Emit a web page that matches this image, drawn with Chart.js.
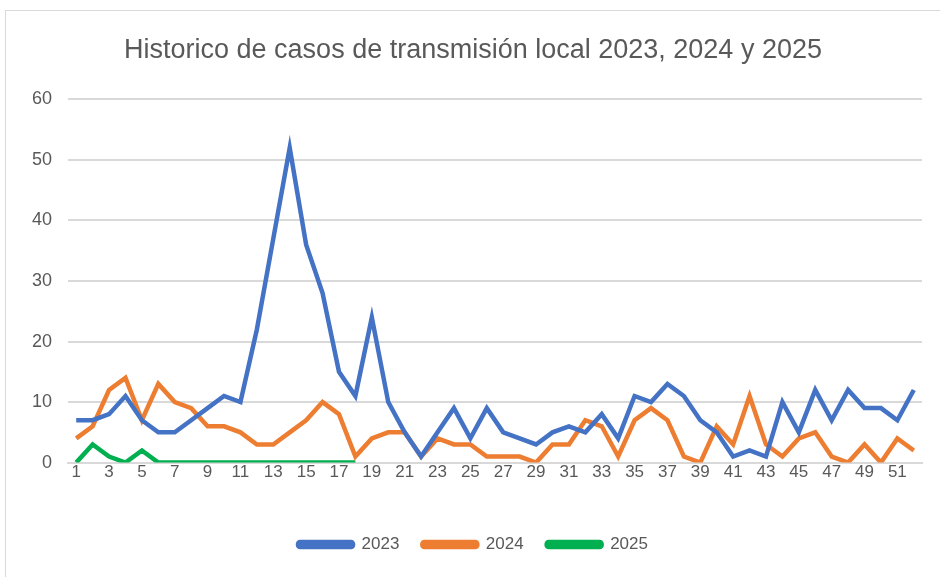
<!DOCTYPE html>
<html>
<head>
<meta charset="utf-8">
<script src="https://cdn.jsdelivr.net/npm/chart.js@4.4.1/dist/chart.umd.min.js"></script>
<style>
  body { margin: 0; background: #fff; }
  #frame { position: absolute; left: 5px; top: 10px; width: 940px; height: 570px;
           border-left: 1px solid #d9d9d9; border-top: 1px solid #d9d9d9; }
  #wrap { position: absolute; left: 0; top: 0; width: 934px; height: 566px; }
</style>
</head>
<body>
<div id="frame"><div id="wrap"><canvas id="myChart"></canvas></div></div>
<script>
// weeks 1..52
const semanas = []
for (let i = 1; i <= 52; i++) semanas.push(String(i))

// cases per week
const casos2023 = [7, 7, 8, 11, 7, 5, 5, 7, 9, 11, 10, 22, 37, 52, 36, 28, 15, 11, 24, 10,
                   5, 1, 5, 9, 4, 9, 5, 4, 3, 5, 6, 5, 8, 4, 11, 10, 13, 11, 7, 5,
                   1, 2, 1, 10, 5, 12, 7, 12, 9, 9, 7, 12]
const casos2024 = [4, 6, 12, 14, 7, 13, 10, 9, 6, 6, 5, 3, 3, 5, 7, 10, 8, 1, 4, 5,
                   5, 1, 4, 3, 3, 1, 1, 1, 0, 3, 3, 7, 6, 1, 7, 9, 7, 1, 0, 6,
                   3, 11, 3, 1, 4, 5, 1, 0, 3, 0, 4, 2]
const casos2025 = [0, 3, 1, 0, 2, 0, 0, 0, 0, 0, 0, 0, 0, 0, 0, 0, 0, 0]

const yTicks = [0, 10, 20, 30, 40, 50, 60]

const gris = '#595959'
const fuente = "'Liberation Sans', Arial, sans-serif"

function serie(label, data, color) {
    return {
        label: label,
        data: data,
        borderColor: color,
        backgroundColor: color,
        borderWidth: 4.5,
        pointRadius: 0,
        tension: 0,
        fill: false
    }
}

const ctx = document.getElementById('myChart')
const chart = new Chart(ctx, {
    type: 'line',
    data: {
        labels: semanas,
        datasets: [
            serie('2023', casos2023, '#4472C4'),
            serie('2024', casos2024, '#ED7D31'),
            serie('2025', casos2025, '#00B050')
        ]
    },
    options: {
        responsive: true,
        maintainAspectRatio: false,
        animation: false,
        layout: { padding: { left: 18, right: 18, top: 19, bottom: 14 } },
        plugins: {
            title: {
                display: true,
                text: 'Historico de casos de transmisión local 2023, 2024 y 2025',
                color: gris,
                font: { family: fuente, size: 27, weight: 'normal' },
                padding: { top: 4, bottom: 33 }
            },
            legend: {
                position: 'bottom',
                labels: {
                    color: gris,
                    font: { family: fuente, size: 17 },
                    boxWidth: 55,
                    boxHeight: 5,
                    useBorderRadius: true,
                    borderRadius: 2,
                    padding: 23
                }
            },
            tooltip: { enabled: false }
        },
        scales: {
            x: {
                offset: true,
                afterFit: function (s) { s.height = s.height + 30 },
                grid: { display: false, drawTicks: false },
                border: { color: '#d9d9d9', width: 2 },
                ticks: {
                    autoSkip: false,
                    maxRotation: 0,
                    padding: 0,
                    color: gris,
                    font: { family: fuente, size: 17 },
                    callback: function (val, i) { return i % 2 === 0 ? semanas[i] : '' }
                }
            },
            y: {
                min: 0,
                max: 60,
                afterFit: function (s) { s.width = 44 },
                afterBuildTicks: function (s) { s.ticks = yTicks.map(v => ({ value: v })) },
                grid: { color: '#d9d9d9', lineWidth: 2, drawTicks: false },
                border: { display: false },
                ticks: {
                    padding: 16,
                    color: gris,
                    font: { family: fuente, size: 18 }
                }
            }
        }
    }
})
</script>
</body>
</html>
